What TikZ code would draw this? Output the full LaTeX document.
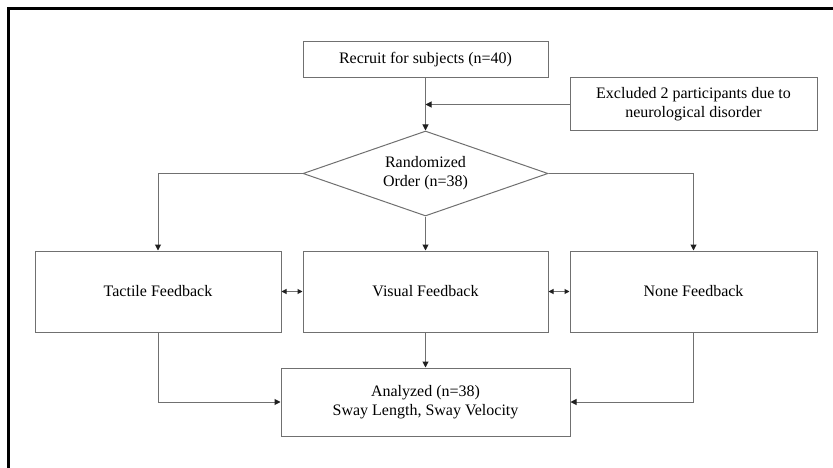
\documentclass[tikz,border=0pt]{standalone}
\usepackage{fontspec}
\setmainfont{Liberation Serif}
\usetikzlibrary{arrows.meta,positioning,shapes.geometric}
\definecolor{trialgray}{HTML}{707070}
\definecolor{trialtip}{HTML}{202020}
\tikzset{
  trialbox/.style={
    rectangle,
    draw=trialgray,
    fill=white,
    line width=1pt,
    align=center,
    inner sep=0pt,
    font=\fontsize{16}{19}\selectfont
  },
  trialdecision/.style={trialbox, diamond, aspect=2.9},
  trialarrow/.style={-{Triangle[length=6pt,width=6pt,color=trialtip]}, line width=1pt, draw=trialgray},
  trialboth/.style={{Triangle[length=5pt,width=5pt,color=trialtip]}-{Triangle[length=5pt,width=5pt,color=trialtip]}, line width=1pt, draw=trialgray}
}
\begin{document}
\begin{tikzpicture}[x=1pt,y=-1pt]
\useasboundingbox (0,0) rectangle (833,468);
\draw[line width=3pt, black] (8.5,468) -- (8.5,8.5) -- (833,8.5);
\node[trialbox, minimum width=245pt, minimum height=36pt] (recruit) at (425.5,60) {Recruit for subjects (n=40)};
\node[trialbox, minimum width=247pt, minimum height=53pt] (excluded) at (693.5,104.5) {Excluded 2 participants due to\\neurological disorder};
\node[trialdecision, minimum width=245pt, minimum height=85pt] (randomized) at (425.5,173.5) {Randomized\\Order (n=38)};
\node[trialbox, minimum width=246pt, minimum height=81pt] (tactile) at (158,291.5) {Tactile Feedback};
\node[trialbox, minimum width=245pt, minimum height=81pt] (visual) at (425.5,291.5) {Visual Feedback};
\node[trialbox, minimum width=247pt, minimum height=81pt] (none) at (693.5,291.5) {None Feedback};
\node[trialbox, minimum width=289pt, minimum height=68pt] (analyzed) at (425.5,402) {Analyzed (n=38)\\Sway Length, Sway Velocity};
\draw[trialarrow] (recruit) -- (randomized);
\draw[trialarrow] (excluded.west) -- (excluded.west -| recruit.south);
\draw[trialarrow] (randomized.west) -| (tactile.north);
\draw[trialarrow] (randomized) -- (visual);
\draw[trialarrow] (randomized.east) -| (none.north);
\draw[trialboth] (tactile) -- (visual);
\draw[trialboth] (visual) -- (none);
\draw[trialarrow] (tactile.south) |- (analyzed.west);
\draw[trialarrow] (visual) -- (analyzed);
\draw[trialarrow] (none.south) |- (analyzed.east);
\end{tikzpicture}
\end{document}
